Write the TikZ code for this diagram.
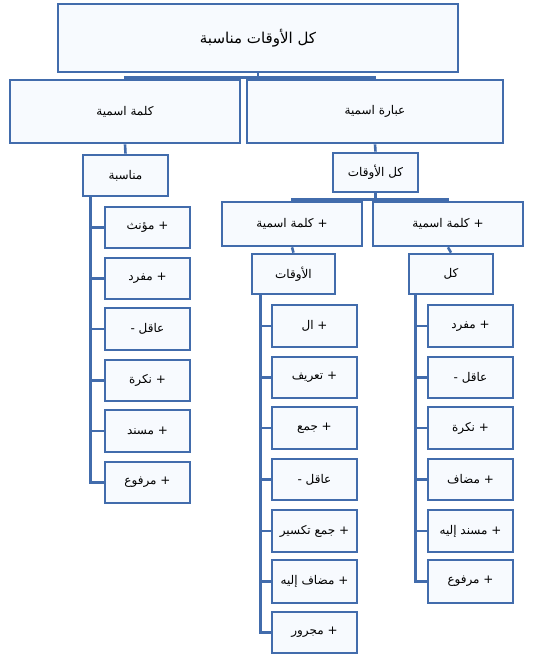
\documentclass[tikz,border=0pt]{standalone}
\usepackage{fontspec}
\TeXXeTstate=1
\newfontfamily\arabicfont[Script=Arabic]{DejaVu Sans}
\usetikzlibrary{backgrounds}
\definecolor{boxblue}{RGB}{66,108,172}
\definecolor{boxfill}{RGB}{247,250,254}
% box between corners (x1,y1) and (x2,y2), y counted downwards
\newcommand{\bx}[7][]{%
  \node[box,#1,minimum width={#4-#2},minimum height={#5-#3}]
    (#6) at ({(#2+#4)/2},{(#3+#5)/2}) {#7};}
\tikzset{
  box/.style={draw=boxblue, fill=boxfill, line width=2.7pt, inner sep=1pt,
    font=\arabicfont\fontsize{12}{14}\selectfont},
  conn/.style={draw=boxblue, line width=2.6pt},
}
\begin{document}
\begin{tikzpicture}[x=1pt,y=-1pt]
\useasboundingbox (0,0) rectangle (536,655);

% levels 1-5
\bx[font=\arabicfont\fontsize{15}{17}\selectfont]{58}{4}{458}{72}{top}{\beginR كل الأوقات مناسبة\endR}
\bx[font=\arabicfont\fontsize{12}{14}\selectfont]{10}{80}{240}{143}{nounL}{\beginR كلمة اسمية\endR}
\bx[font=\arabicfont\fontsize{12}{14}\selectfont]{247}{80}{503}{143}{phrase}{\beginR عبارة اسمية\endR}
\bx{83}{155}{168}{196}{mn}{\beginR مناسبة\endR}
\bx{333}{153}{418}{192}{kl}{\beginR كل الأوقات\endR}
\bx{222}{202}{362}{246}{nA}{\beginR كلمة اسمية\endR~+}
\bx{373}{202}{523}{246}{nB}{\beginR كلمة اسمية\endR~+}
\bx{252}{254}{335}{294}{aw}{\beginR الأوقات\endR}
\bx{409}{254}{493}{294}{kk}{\beginR كل\endR}

% features of مناسبة
\bx{105}{207}{190}{248}{a1}{\beginR مؤنث\endR~+}
\bx{105}{258}{190}{299}{a2}{\beginR مفرد\endR~+}
\bx{105}{308}{190}{350}{a3}{-~\beginR عاقل\endR}
\bx{105}{360}{190}{401}{a4}{\beginR نكرة\endR~+}
\bx{105}{410}{190}{452}{a5}{\beginR مسند\endR~+}
\bx{105}{462}{190}{503}{a6}{\beginR مرفوع\endR~+}

% features of الأوقات
\bx{272}{305}{357}{347}{b1}{\beginR ال\endR~+}
\bx{272}{357}{357}{398}{b2}{\beginR تعريف\endR~+}
\bx{272}{407}{357}{449}{b3}{\beginR جمع\endR~+}
\bx{272}{459}{357}{500}{b4}{-~\beginR عاقل\endR}
\bx{272}{510}{357}{552}{b5}{\beginR جمع تكسير\endR~+}
\bx{272}{560}{357}{603}{b6}{\beginR مضاف إليه\endR~+}
\bx{272}{612}{357}{653}{b7}{\beginR مجرور\endR~+}

% features of كل
\bx{428}{305}{513}{347}{c1}{\beginR مفرد\endR~+}
\bx{428}{357}{513}{398}{c2}{-~\beginR عاقل\endR}
\bx{428}{407}{513}{449}{c3}{\beginR نكرة\endR~+}
\bx{428}{459}{513}{500}{c4}{\beginR مضاف\endR~+}
\bx{428}{510}{513}{552}{c5}{\beginR مسند إليه\endR~+}
\bx{428}{560}{513}{603}{c6}{\beginR مرفوع\endR~+}

\begin{scope}[on background layer]
  % tree connectors
  \draw[conn] (top.south) -- ++(0,4) -| (nounL.north);
  \draw[conn] (top.south) -- ++(0,4) -| (phrase.north);
  \draw[conn] (nounL.south) -- (mn.north);
  \draw[conn] (phrase.south) -- (kl.north);
  \draw[conn] (kl.south) -- ++(0,6) -| (nA.north);
  \draw[conn] (kl.south) -- ++(0,6) -| (nB.north);
  \draw[conn] (nA.south) -- (aw.north);
  \draw[conn] (nB.south) -- (kk.north);
  % feature brackets
  \foreach \c in {a1,a2,a3,a4,a5,a6}
    \draw[conn] ([xshift=9]mn.south west) |- (\c.west);
  \foreach \c in {b1,b2,b3,b4,b5,b6,b7}
    \draw[conn] ([xshift=10]aw.south west) |- (\c.west);
  \foreach \c in {c1,c2,c3,c4,c5,c6}
    \draw[conn] ([xshift=8]kk.south west) |- (\c.west);
\end{scope}
\end{tikzpicture}
\end{document}
